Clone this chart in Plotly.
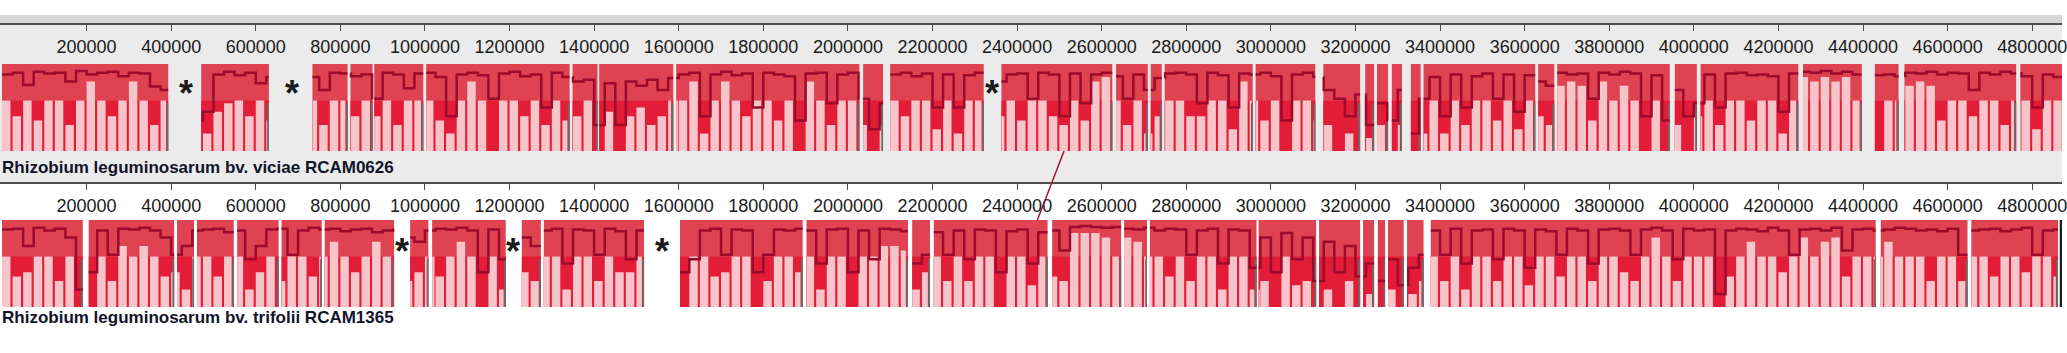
import plotly.graph_objects as go

# ---------------- data ----------------
BIN = 25000  # similarity profile bin size (bp)
TICKS = list(range(200000, 4800001, 200000))

top_name = "Rhizobium leguminosarum bv. viciae RCAM0626"
bot_name = "Rhizobium leguminosarum bv. trifolii RCAM1365"

# aligned blocks (bp)
top_start = [0, 471000, 734000, 824000, 880000, 1003000, 1349000, 1412000, 1594000, 2036000,
             2100000, 2363000, 2634000, 2716000, 2749000, 2964000, 3124000, 3223000, 3251000, 3286000,
             3331000, 3361000, 3632000, 3677000, 3955000, 4016000, 4258000, 4428000, 4498000, 4772000]
top_end = [393000, 631000, 817000, 876000, 996000, 1342000, 1408000, 1587000, 2027000, 2083000,
           2321000, 2625000, 2709000, 2742000, 2957000, 3105000, 3211000, 3244000, 3277000, 3310000,
           3354000, 3625000, 3670000, 3943000, 4007000, 4247000, 4397000, 4484000, 4762000, 4875000]

bot_start = [0, 205000, 414000, 461000, 556000, 661000, 763000, 965000, 1017000, 1229000,
             1281000, 1603000, 1902000, 2152000, 2203000, 2483000, 2653000, 2714000, 2971000, 3114000,
             3218000, 3253000, 3277000, 3322000, 3378000, 4442000, 4656000]
bot_end = [191000, 407000, 454000, 548000, 654000, 756000, 927000, 1008000, 1191000, 1274000,
           1518000, 1893000, 2142000, 2194000, 2472000, 2646000, 2707000, 2966000, 3107000, 3211000,
           3244000, 3270000, 3314000, 3361000, 4430000, 4647000, 4861000]
bot_length = 4868000

# similarity profile (% of block height), one value per 25 kb bin
top_prof = [88, 90, 76, 91, 89, 90, 80, 92, 88, 90,
            91, 86, 90, 89, 74, 70, 0, 0, 35, 45,
            88, 91, 87, 90, 78, 85, 0, 0, 0, 85,
            70, 90, 89, 86, 88, 60, 90, 88, 72, 89,
            90, 85, 40, 88, 90, 87, 60, 89, 91, 86,
            88, 50, 90, 85, 80, 82, 30, 78, 30, 80,
            75, 82, 70, 84, 88, 90, 40, 88, 91, 87,
            89, 50, 90, 88, 86, 35, 89, 90, 55, 88,
            90, 60, 25, 55, 88, 90, 86, 89, 50, 88,
            50, 87, 90, 0, 80, 88, 89, 60, 90, 88,
            40, 89, 55, 88, 90, 86, 60, 88, 70, 84,
            89, 90, 88, 55, 90, 87, 50, 89, 88, 90,
            86, 35, 88, 90, 85, 70, 60, 40, 65, 30,
            55, 35, 70, 20, 60, 85, 40, 88, 50, 86,
            89, 60, 88, 45, 87, 80, 75, 90, 88, 89,
            60, 90, 88, 91, 89, 40, 87, 35, 70, 40,
            55, 88, 50, 89, 90, 87, 88, 86, 45, 89,
            91, 90, 92, 89, 91, 88, 0, 87, 88, 86,
            90, 89, 91, 88, 90, 89, 70, 90, 88, 91,
            89, 86, 50, 88, 85]

# height (%) of the pale lower columns, one value per 25 kb bin
top_pale = [58, 40, 58, 35, 58, 58, 30, 58, 80, 58,
            40, 58, 80, 58, 30, 58, 0, 0, 0, 20,
            45, 55, 58, 40, 58, 35, 0, 0, 0, 58,
            30, 58, 58, 40, 58, 40, 58, 30, 58, 58,
            58, 35, 20, 58, 80, 58, 0, 58, 58, 40,
            58, 30, 58, 35, 40, 58, 0, 45, 0, 40,
            50, 30, 40, 58, 58, 80, 20, 58, 80, 58,
            40, 58, 58, 35, 58, 0, 80, 58, 30, 58,
            58, 30, 0, 30, 58, 40, 58, 58, 25, 58,
            20, 58, 58, 0, 40, 58, 35, 58, 58, 40,
            30, 58, 35, 80, 85, 58, 30, 58, 20, 40,
            58, 58, 40, 40, 58, 58, 25, 80, 58, 35,
            58, 0, 58, 58, 35, 30, 0, 20, 0, 15,
            30, 0, 30, 0, 20, 58, 20, 58, 30, 58,
            58, 35, 58, 25, 58, 40, 30, 75, 80, 75,
            35, 80, 58, 75, 58, 0, 58, 0, 30, 0,
            40, 58, 30, 58, 58, 35, 58, 58, 20, 58,
            85, 80, 85, 80, 85, 58, 0, 0, 58, 58,
            75, 80, 75, 35, 58, 58, 40, 58, 58, 30,
            58, 58, 25, 58, 58]

bot_prof = [89, 90, 70, 91, 88, 90, 80, 20, 40, 88,
            60, 90, 89, 91, 88, 80, 60, 70, 88, 89,
            90, 86, 88, 55, 70, 89, 90, 60, 88, 91,
            89, 90, 87, 89, 90, 86, 88, 89, 80, 75,
            88, 90, 89, 91, 88, 40, 89, 55, 0, 80,
            70, 88, 90, 50, 89, 88, 60, 90, 87, 55,
            88, 0, 0, 0, 40, 55, 88, 90, 60, 89,
            88, 40, 60, 89, 88, 90, 88, 50, 89, 90,
            40, 88, 55, 90, 89, 87, 50, 60, 86, 60,
            88, 55, 89, 88, 40, 87, 89, 50, 86, 88,
            65, 92, 93, 92, 91, 92, 90, 89, 91, 88,
            90, 89, 60, 88, 90, 50, 89, 88, 45, 80,
            40, 85, 55, 80, 30, 75, 40, 70, 35, 50,
            30, 55, 25, 45, 60, 88, 60, 90, 50, 88,
            89, 55, 90, 88, 45, 89, 87, 60, 90, 88,
            50, 89, 90, 88, 60, 89, 91, 88, 55, 90,
            88, 89, 15, 88, 90, 89, 87, 91, 88, 60,
            89, 90, 88, 91, 65, 89, 90, 88, 89, 91,
            90, 88, 89, 87, 90, 60, 88, 89, 90, 87,
            89, 91, 60, 88, 89]

bot_pale = [58, 35, 40, 58, 58, 30, 58, 0, 0, 58,
            30, 70, 58, 70, 58, 35, 40, 20, 58, 58,
            35, 58, 58, 20, 40, 58, 30, 58, 58, 35,
            58, 75, 58, 40, 58, 75, 58, 35, 30, 40,
            58, 35, 58, 75, 58, 0, 58, 20, 0, 40,
            30, 58, 58, 20, 58, 58, 30, 58, 40, 40,
            58, 0, 0, 0, 0, 58, 58, 35, 40, 58,
            58, 0, 30, 58, 58, 40, 58, 20, 58, 58,
            0, 58, 58, 70, 70, 65, 20, 40, 58, 30,
            58, 30, 58, 58, 0, 58, 58, 25, 58, 35,
            30, 85, 85, 85, 80, 58, 80, 75, 58, 58,
            35, 58, 30, 58, 58, 20, 58, 58, 20, 30,
            0, 58, 25, 30, 0, 20, 0, 30, 0, 15,
            0, 20, 0, 15, 30, 58, 30, 58, 20, 58,
            58, 30, 58, 58, 25, 58, 58, 35, 58, 58,
            30, 58, 58, 40, 30, 58, 80, 58, 30, 58,
            58, 58, 0, 35, 58, 75, 58, 58, 40, 58,
            80, 58, 75, 80, 35, 58, 58, 58, 75, 58,
            58, 58, 30, 58, 58, 30, 58, 58, 35, 58,
            58, 40, 58, 58, 35]

top_stars = [435000, 685000, 2340000]
bot_stars = [946000, 1208000, 1561000]
link_top_bp = 2511000
link_bot_bp = 2448000

# ---------------- style ----------------
MID = "#df4351"
BRIGHT = "#e31d37"
PALE = "#f7c4c9"
DARK = "#9c0b2b"
EDGE = "#62706d"
FONT = "Liberation Sans, Arial, sans-serif"
W, H = 2067, 353


def py(px):
    return 1 - px / H


def rects(pairs, y0, y1):
    xs, ys = [], []
    for a, b in pairs:
        xs += [a, a, b, b, a, None]
        ys += [y0, y1, y1, y0, y0, None]
    return xs, ys


def track_traces(starts, ends, prof, pale, xa, ya):
    out = []
    blocks = list(zip(starts, ends))
    common = dict(mode="lines", xaxis=xa, yaxis=ya, hoverinfo="skip", showlegend=False)
    xs, ys = rects(blocks, 0, 1)
    out.append(go.Scatter(x=xs, y=ys, fill="toself", fillcolor=MID, line=dict(width=0), **common))
    xs, ys = rects(blocks, 0, 0.58)
    out.append(go.Scatter(x=xs, y=ys, fill="toself", fillcolor=BRIGHT, line=dict(width=0), **common))
    # pale columns
    px_, py_ = [], []
    stripe = 0.2 * BIN
    for s, e in blocks:
        for i in range(int(s // BIN), int((e - 1) // BIN) + 1):
            a, b = max(s, i * BIN), min(e, (i + 1) * BIN)
            h = pale[i] / 100
            if h <= 0:
                continue
            bb = b - stripe if (b - a) > 1.6 * stripe else b - 0.3 * (b - a)
            px_ += [a, a, bb, bb, a, None]
            py_ += [0, h, h, 0, 0, None]
    out.append(go.Scatter(x=px_, y=py_, fill="toself", fillcolor=PALE, line=dict(width=0), **common))
    # edge marks
    xs, ys = rects([(e - 4000, e) for s, e in blocks], 0, 0.55)
    out.append(go.Scatter(x=xs, y=ys, fill="toself", fillcolor=EDGE, line=dict(width=0), **common))
    # similarity profile line
    lx, ly = [], []
    for s, e in blocks:
        last = None
        for i in range(int(s // BIN), int((e - 1) // BIN) + 1):
            a = max(s, i * BIN)
            last = prof[i] / 100
            lx.append(a)
            ly.append(last)
        lx += [e, None]
        ly += [last, None]
    out.append(go.Scatter(x=lx, y=ly, line=dict(color=DARK, width=2.5, shape="hv"), **common))
    return out


fig = go.Figure()
# anchor subplots that carry the two ruler axes
fig.add_trace(go.Scatter(x=[TICKS[0]], y=[0.5], xaxis="x", yaxis="y", mode="markers",
                         marker=dict(opacity=0), hoverinfo="skip", showlegend=False))
fig.add_trace(go.Scatter(x=[TICKS[0]], y=[0.5], xaxis="x2", yaxis="y3", mode="markers",
                         marker=dict(opacity=0), hoverinfo="skip", showlegend=False))
for t in track_traces(top_start, top_end, top_prof, top_pale, "x", "y2"):
    fig.add_trace(t)
for t in track_traces(bot_start, bot_end, bot_prof, bot_pale, "x2", "y4"):
    fig.add_trace(t)

xr = [-2 * 2354, (W + 2) * 2354]
axis_common = dict(range=xr, showgrid=False, zeroline=False, showline=True, linecolor="#4d4d4d",
                   linewidth=2, ticks="outside", ticklen=6, tickwidth=1, tickcolor="#4d4d4d",
                   tickvals=TICKS, ticktext=[str(v) for v in TICKS], ticklabeloverflow="allow",
                   tickfont=dict(family=FONT, size=18, color="#1a1a1a"), side="bottom")
hidden_y = dict(visible=False, range=[0, 1], fixedrange=True)

fig.update_layout(
    width=W, height=H, margin=dict(l=0, r=0, t=0, b=0),
    paper_bgcolor="white", plot_bgcolor="rgba(0,0,0,0)",
    xaxis=dict(anchor="y", **axis_common),
    xaxis2=dict(anchor="y3", matches="x", **axis_common),
    yaxis=dict(domain=[py(23), py(12)], anchor="x", **hidden_y),
    yaxis2=dict(domain=[py(151), py(64)], anchor="free", position=0, **hidden_y),
    yaxis3=dict(domain=[py(182), py(172)], anchor="x2", **hidden_y),
    yaxis4=dict(domain=[py(307), py(220)], anchor="free", position=0, **hidden_y),
    showlegend=False,
)

shapes = [
    dict(type="rect", xref="paper", yref="paper", x0=0, x1=1, y0=py(182), y1=py(15),
         fillcolor="#ebebeb", line=dict(width=0), layer="below"),
    dict(type="rect", xref="paper", yref="paper", x0=0, x1=1, y0=py(23), y1=py(15),
         fillcolor="#d7d7d7", line=dict(width=0), layer="below"),
    dict(type="line", xref="x", yref="paper", x0=link_top_bp, x1=link_bot_bp, y0=py(151), y1=py(220),
         line=dict(color="#a3122e", width=1.5), layer="above"),
    dict(type="line", xref="x2", yref="y4", x0=bot_length, x1=bot_length, y0=0, y1=1.07,
         line=dict(color="#1e1e1e", width=2.5), layer="above"),
]
fig.update_layout(shapes=shapes)

ann = [
    dict(text=f"<b>{top_name}</b>", x=0, y=py(167), xref="paper", yref="paper", xanchor="left",
         yanchor="middle", showarrow=False, font=dict(family=FONT, size=17, color="#12142a")),
    dict(text=f"<b>{bot_name}</b>", x=0, y=py(317), xref="paper", yref="paper", xanchor="left",
         yanchor="middle", showarrow=False, font=dict(family=FONT, size=17, color="#12142a")),
]
for s in top_stars:
    ann.append(dict(text="<b>*</b>", x=s, y=py(93), xref="x", yref="paper", xanchor="center",
                    yanchor="middle", showarrow=False, font=dict(family=FONT, size=36, color="#1a1a1a")))
for s in bot_stars:
    ann.append(dict(text="<b>*</b>", x=s, y=py(251), xref="x", yref="paper", xanchor="center",
                    yanchor="middle", showarrow=False, font=dict(family=FONT, size=36, color="#1a1a1a")))
fig.update_layout(annotations=ann)

fig.write_html("out.html")
